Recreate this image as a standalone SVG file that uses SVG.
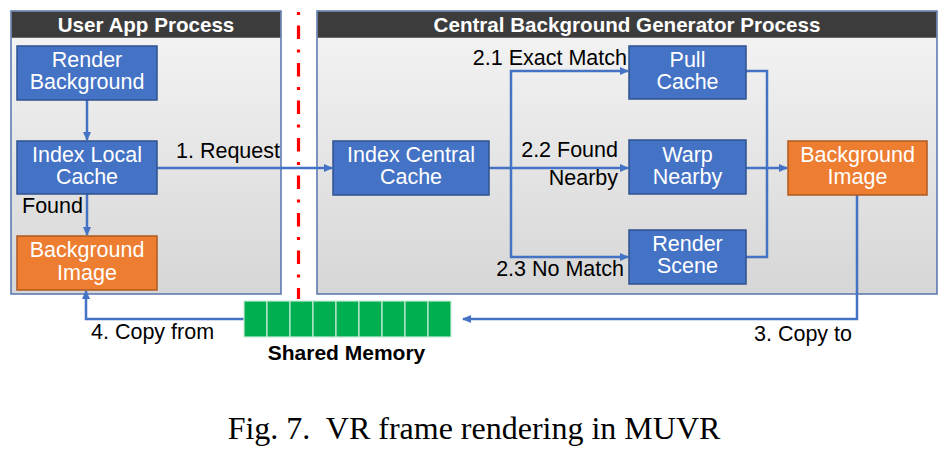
<svg xmlns="http://www.w3.org/2000/svg" width="950" height="462" viewBox="0 0 950 462">
<defs>
<linearGradient id="bg" x1="0" y1="0" x2="0" y2="1">
<stop offset="0" stop-color="#f5f5f5"/>
<stop offset="1" stop-color="#d6d6d6"/>
</linearGradient>
<marker id="ah" markerWidth="10" markerHeight="10" refX="8" refY="5" orient="auto" markerUnits="userSpaceOnUse">
<path d="M0,1 L9,5 L0,9 z" fill="#4472c4"/>
</marker>
<style>
.cont{fill:url(#bg);stroke:#5674b0;stroke-width:1.5}
.hdr{fill:#3c3c3c}
.ht{font-family:"Liberation Sans",Arial,sans-serif;font-weight:bold;font-size:20.6px;fill:#fff;text-anchor:middle}
.blue{fill:#4472c4;stroke:#2f528f;stroke-width:1.5}
.orange{fill:#ed7d31;stroke:#ae5a21;stroke-width:1.5}
.nt{font-family:"Liberation Sans",Arial,sans-serif;font-size:21.5px;fill:#fff;text-anchor:middle}
.lbl{font-family:"Liberation Sans",Arial,sans-serif;font-size:21.5px;fill:#000}
.r{text-anchor:end}
.c{fill:none;stroke:#4472c4;stroke-width:2.5}
.ca{fill:none;stroke:#4472c4;stroke-width:2.5;marker-end:url(#ah)}
.cell{fill:#00b050;stroke:#c8ecd6;stroke-width:1.2}
</style>
</defs>
<rect width="950" height="462" fill="#fff"/>

<g id="user-app-process">
<rect class="cont" x="11" y="11" width="270" height="283"/>
<rect class="hdr" x="11.75" y="11.75" width="268.5" height="26"/>
<text class="ht" x="146" y="32">User App Process</text>
</g>

<g id="central-process">
<rect class="cont" x="317" y="11" width="620" height="283"/>
<rect class="hdr" x="317.75" y="11.75" width="618.5" height="26"/>
<text class="ht" x="627" y="32">Central Background Generator Process</text>
</g>

<line id="divider" x1="298.5" y1="12" x2="298.5" y2="299" stroke="#ff0000" stroke-width="3.2" stroke-dasharray="3 10.5 13.5 10.5"/>

<g id="connectors">
<path class="ca" d="M87,100 V140"/>
<path class="ca" d="M87,194 V235"/>
<path class="ca" d="M157,168 H332"/>
<path class="c" d="M489,168 H511"/>
<path class="ca" d="M511,168 V71 H628"/>
<path class="ca" d="M511,168 H628"/>
<path class="ca" d="M511,168 V257 H628"/>
<path class="c" d="M746,71 H767 V257 H746"/>
<path class="ca" d="M746,168 H787"/>
<path class="ca" d="M857,195 V319 H463"/>
<path class="ca" d="M244,319 H86 V291"/>
</g>

<g id="render-background">
<rect class="blue" x="17" y="46" width="140" height="54"/>
<text class="nt" x="87" y="67">Render</text>
<text class="nt" x="87" y="89">Background</text>
</g>

<g id="index-local-cache">
<rect class="blue" x="17" y="141" width="140" height="53"/>
<text class="nt" x="87" y="162">Index Local</text>
<text class="nt" x="87" y="184">Cache</text>
</g>

<g id="background-image-local">
<rect class="orange" x="17" y="236" width="140" height="54"/>
<text class="nt" x="87" y="257">Background</text>
<text class="nt" x="87" y="280">Image</text>
</g>

<g id="index-central-cache">
<rect class="blue" x="333" y="141" width="156" height="54"/>
<text class="nt" x="411" y="162">Index Central</text>
<text class="nt" x="411" y="184">Cache</text>
</g>

<g id="pull-cache">
<rect class="blue" x="629" y="46" width="117" height="53"/>
<text class="nt" x="687.5" y="67">Pull</text>
<text class="nt" x="687.5" y="89">Cache</text>
</g>

<g id="warp-nearby">
<rect class="blue" x="629" y="140" width="117" height="54"/>
<text class="nt" x="687.5" y="162">Warp</text>
<text class="nt" x="687.5" y="184">Nearby</text>
</g>

<g id="render-scene">
<rect class="blue" x="629" y="230" width="117" height="54"/>
<text class="nt" x="687.5" y="251">Render</text>
<text class="nt" x="687.5" y="273">Scene</text>
</g>

<g id="background-image-central">
<rect class="orange" x="788" y="141" width="139" height="54"/>
<text class="nt" x="857.5" y="162">Background</text>
<text class="nt" x="857.5" y="184">Image</text>
</g>

<g id="shared-memory">
<rect class="cell" x="244" y="301" width="23" height="36"/>
<rect class="cell" x="267" y="301" width="23" height="36"/>
<rect class="cell" x="290" y="301" width="23" height="36"/>
<rect class="cell" x="313" y="301" width="23" height="36"/>
<rect class="cell" x="336" y="301" width="23" height="36"/>
<rect class="cell" x="359" y="301" width="23" height="36"/>
<rect class="cell" x="382" y="301" width="23" height="36"/>
<rect class="cell" x="405" y="301" width="23" height="36"/>
<rect class="cell" x="428" y="301" width="23" height="36"/>
<text x="346.5" y="360" font-family="'Liberation Sans',Arial,sans-serif" font-weight="bold" font-size="21" fill="#000" text-anchor="middle">Shared Memory</text>
</g>

<g id="labels">
<text class="lbl" x="22" y="213">Found</text>
<text class="lbl" x="176" y="158">1. Request</text>
<text class="lbl r" x="627" y="65">2.1 Exact Match</text>
<text class="lbl r" x="618" y="157">2.2 Found</text>
<text class="lbl r" x="618" y="185">Nearby</text>
<text class="lbl r" x="624" y="276">2.3 No Match</text>
<text class="lbl" x="754" y="341">3. Copy to</text>
<text class="lbl" x="91" y="339">4. Copy from</text>
</g>

<text x="474" y="439" font-family="'Liberation Serif','Times New Roman',serif" font-size="32" fill="#000" text-anchor="middle" xml:space="preserve">Fig. 7.  VR frame rendering in MUVR</text>
</svg>
